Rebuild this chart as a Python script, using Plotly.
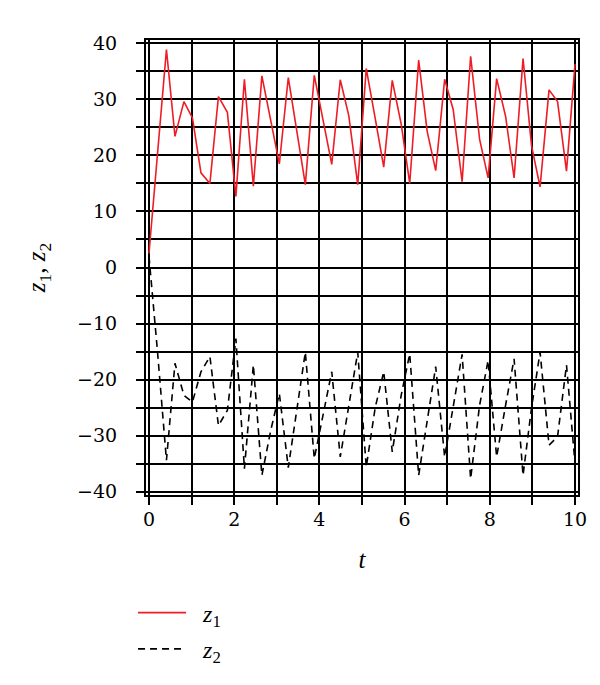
import plotly.graph_objects as go

t = [0.00, 0.20, 0.41, 0.61, 0.82, 1.02, 1.22, 1.43, 1.63, 1.84,
     2.04, 2.24, 2.45, 2.65, 2.86, 3.06, 3.27, 3.47, 3.67, 3.88,
     4.08, 4.29, 4.49, 4.69, 4.90, 5.10, 5.31, 5.51, 5.71, 5.92,
     6.12, 6.33, 6.53, 6.73, 6.94, 7.14, 7.35, 7.55, 7.76, 7.96,
     8.16, 8.37, 8.57, 8.78, 8.98, 9.18, 9.39, 9.59, 9.80, 10.00]

z1 = [2.5, 20.0, 38.9, 23.4, 29.6, 26.7, 16.9, 15.0, 30.5, 27.7,
      12.7, 33.6, 14.5, 34.2, 26.4, 18.5, 33.9, 24.5, 14.8, 34.3,
      26.4, 18.4, 33.5, 27.1, 14.8, 35.5, 26.6, 17.9, 33.4, 25.6,
      15.0, 37.0, 24.3, 17.3, 33.6, 28.2, 15.3, 37.7, 22.9, 16.0,
      33.7, 27.0, 16.0, 37.3, 21.7, 14.4, 31.7, 29.6, 17.2, 36.3]

z2 = [2.0, -15.0, -34.4, -17.1, -22.8, -24.0, -18.6, -15.9, -28.2, -25.5,
      -12.7, -35.9, -17.4, -37.1, -29.0, -22.5, -35.7, -25.2, -15.1, -34.1,
      -26.4, -18.6, -33.8, -24.6, -15.1, -35.6, -25.0, -18.6, -32.9, -22.8,
      -15.4, -37.1, -27.0, -17.7, -33.8, -25.2, -15.5, -37.7, -24.6, -16.6,
      -33.8, -24.6, -16.3, -37.1, -25.0, -15.1, -31.7, -30.2, -17.4, -35.0]

x_ticks = [0, 2, 4, 6, 8, 10]
y_ticks = [-40, -30, -20, -10, 0, 10, 20, 30, 40]

TICKFONT = "DejaVu Serif"
FONT = "Liberation Serif"

fig = go.Figure()
fig.add_trace(go.Scatter(x=t, y=z1, mode="lines",
                         name="\u00a0\u00a0<i>z</i><sub>1</sub>",
                         legendgroup="a",
                         line=dict(color="#ee1c24", width=1.6)))
fig.add_trace(go.Scatter(x=t, y=z2, mode="lines",
                         name="\u00a0\u00a0<i>z</i><sub>2</sub>",
                         legendgroup="b",
                         line=dict(color="black", width=1.6, dash="7px,5px")))

axis_common = dict(
    showline=True, mirror=True, linecolor="black", linewidth=2,
    showgrid=True, gridcolor="black", gridwidth=1.6,
    ticks="outside", ticklen=8, tickwidth=1.6, tickcolor="black",
    zeroline=False,
    tickfont=dict(family=TICKFONT, size=19, color="black"),
)

fig.update_xaxes(
    range=[-0.07, 10.07], tickvals=x_ticks,
    minor=dict(dtick=1, tick0=0, showgrid=True, gridcolor="black", gridwidth=1.6,
               ticks="outside", ticklen=8, tickwidth=1.6, tickcolor="black"),
    title=dict(text="<i>t</i>", font=dict(family=FONT, size=25, color="black"), standoff=22),
    ticklabelstandoff=-2,
    **axis_common,
)
fig.update_yaxes(
    range=[-40.6, 40.6], tickvals=y_ticks,
    minor=dict(dtick=5, tick0=0, showgrid=True, gridcolor="black", gridwidth=1.6,
               ticks="outside", ticklen=8, tickwidth=1.6, tickcolor="black"),
    title=dict(text="<i>z</i><sub>1</sub>, <i>z</i><sub>2</sub>",
               font=dict(family=FONT, size=25, color="black"), standoff=24),
    ticklabelstandoff=15,
    **axis_common,
)

fig.update_layout(
    width=600, height=685,
    margin=dict(l=138, r=30, t=32, b=198),
    paper_bgcolor="white", plot_bgcolor="white",
    showlegend=True,
    legend=dict(x=-0.03, y=-0.21, xanchor="left", yanchor="top",
                font=dict(family=FONT, size=24, color="black"),
                traceorder="grouped", tracegroupgap=2,
                itemwidth=48,
                bgcolor="rgba(0,0,0,0)"),
)

fig.write_html("out.html")
